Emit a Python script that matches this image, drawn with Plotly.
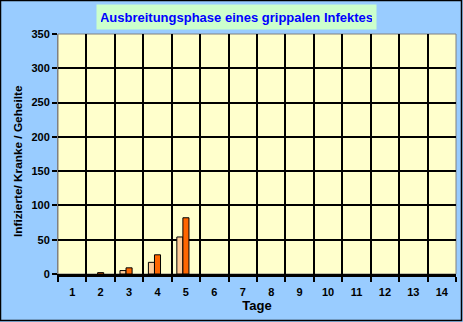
import plotly.graph_objects as go

tage = [str(i) for i in range(1, 15)]
infizierte = [0, 0, 5, 17, 54, 0, 0, 0, 0, 0, 0, 0, 0, 0]
kranke = [0, 2, 9, 28, 82, 0, 0, 0, 0, 0, 0, 0, 0, 0]
geheilte = [0, 0, 0, 0, 0, 0, 0, 0, 0, 0, 0, 0, 0, 0]

W, H = 463, 322
L, R, T, B = 58, 7, 34, 48
pw, ph = W - L - R, H - T - B

FONT = "Liberation Sans, Arial, sans-serif"


def nz(vals):
    # zero-height bars are not drawn in the original chart
    return [v if v != 0 else None for v in vals]


fig = go.Figure()
fig.add_bar(x=tage, y=nz(infizierte), name="Infizierte",
            marker=dict(color="#FFCC99", line=dict(color="black", width=1)))
fig.add_bar(x=tage, y=nz(kranke), name="Kranke",
            marker=dict(color="#FF6600", line=dict(color="black", width=1)))
fig.add_bar(x=tage, y=nz(geheilte), name="Geheilte",
            marker=dict(color="#99CC00", line=dict(color="black", width=1)))

fig.update_layout(
    width=W, height=H,
    margin=dict(l=L, r=R, t=T, b=B),
    paper_bgcolor="#99CCFF",
    plot_bgcolor="#FFFFCC",
    showlegend=False,
    barmode="group",
    bargap=0.36,
    bargroupgap=0,
    font=dict(family=FONT, color="black"),
    xaxis=dict(
        type="category",
        categoryorder="array", categoryarray=tage,
        tickson="boundaries",
        ticks="outside", ticklen=5, tickcolor="black", tickwidth=2,
        showgrid=True, gridcolor="black", gridwidth=1.5,
        showline=True, linecolor="black", linewidth=3,
        tickfont=dict(size=11, family=FONT, weight="bold"),
        ticklabelstandoff=6,
        title=dict(text="<b>Tage</b>", font=dict(size=13, family=FONT), standoff=2),
        fixedrange=True,
    ),
    yaxis=dict(
        range=[0, 350], dtick=50,
        ticks="outside", ticklen=5, tickcolor="black", tickwidth=1.5,
        showgrid=True, gridcolor="black", gridwidth=1.5,
        zeroline=False,
        showline=True, linecolor="#808080", linewidth=1,
        tickfont=dict(size=11, family=FONT, weight="bold"),
    ),
)

# y-axis title as rotated annotation for exact placement
fig.add_annotation(
    text="<b>Infizierte/ Kranke / Geheilte</b>",
    xref="paper", yref="paper",
    x=(18 - L) / pw, y=(H - B - 161) / ph,
    xanchor="center", yanchor="middle", showarrow=False, textangle=-90,
    font=dict(size=11.8, color="black", family=FONT),
)

# plot area border (top/right grey)
fig.add_shape(type="rect", xref="paper", yref="paper", x0=0, x1=1, y0=0, y1=1,
              line=dict(color="#808080", width=1), layer="below")
# outer chart border
fig.add_shape(type="rect", xref="paper", yref="paper",
              x0=-(L - 0.5) / pw, x1=1 + (R - 1.5) / pw,
              y0=-(B - 1.5) / ph, y1=1 + (T - 0.5) / ph,
              line=dict(color="black", width=1.5))

fig.add_annotation(
    text="<b>Ausbreitungsphase eines grippalen Infektes</b>",
    xref="paper", yref="paper",
    x=(236.5 - L) / pw, y=1 + (T - 17) / ph,
    xanchor="center", yanchor="middle", showarrow=False,
    font=dict(size=13, color="#0000FF", family=FONT),
    bgcolor="#CCFFCC", borderpad=4, width=271, height=16,
)

fig.write_html("out.html")
